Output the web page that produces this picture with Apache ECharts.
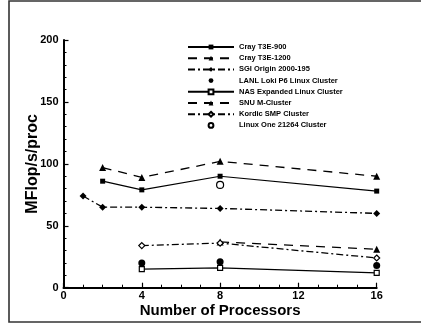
<!DOCTYPE html>
<html>
<head>
<meta charset="utf-8">
<script src="https://cdn.jsdelivr.net/npm/echarts@6/dist/echarts.min.js"></script>
<style>
  html, body { margin: 0; padding: 0; background: #fff; }
  #chart { width: 421px; height: 326px; }
</style>
</head>
<body>
<div id="chart"></div>
<script>
// Per-processor performance of several machines
const xTicks = [0, 4, 8, 12, 16];
const yTicks = [0, 50, 100, 150, 200];

const crayT3E900Procs = [2, 4, 8, 16];
const crayT3E900 = [86, 79, 90, 78];

const crayT3E1200Procs = [2, 4, 8, 16];
const crayT3E1200 = [97, 89, 102, 90];

const sgiOriginProcs = [1, 2, 4, 8, 16];
const sgiOrigin = [74, 65, 65, 64, 60];

const lanlLokiProcs = [4, 8, 16];
const lanlLoki = [20, 21, 18];

const nasExpandedProcs = [4, 8, 16];
const nasExpanded = [15, 16, 12];

const snuMClusterProcs = [8, 16];
const snuMCluster = [37, 31];

const kordicSmpProcs = [4, 8, 16];
const kordicSmp = [34, 36, 24];

const linuxOneProcs = [8];
const linuxOne = [83];

const FONT = '"Liberation Sans", Arial, sans-serif';
const pair = (xs, ys) => xs.map((x, i) => [x, ys[i]]);

function lineSeries(name, xs, ys, symbol, size, lineType, width, filled) {
  return {
    name: name,
    type: 'line',
    data: pair(xs, ys),
    symbol: symbol,
    symbolSize: size,
    showAllSymbol: true,
    animation: false,
    lineStyle: { color: '#000', width: width, type: lineType },
    itemStyle: filled
      ? { color: '#000', borderColor: '#000', borderWidth: 0 }
      : { color: '#fff', borderColor: '#000', borderWidth: 1.2 },
    emphasis: { disabled: true }
  };
}

const series = [
  lineSeries('Cray T3E-900', crayT3E900Procs, crayT3E900, 'rect', 5, 'solid', 1.2, true),
  lineSeries('Cray T3E-1200', crayT3E1200Procs, crayT3E1200, 'triangle', 7, [9, 7], 1.3, true),
  lineSeries('SGI Origin 2000-195', sgiOriginProcs, sgiOrigin, 'diamond', 7, [7, 3, 2, 3], 1.3, true),
  lineSeries('LANL Loki P6 Linux Cluster', lanlLokiProcs, lanlLoki, 'circle', 7, 'solid', 0, true),
  lineSeries('NAS Expanded Linux Cluster', nasExpandedProcs, nasExpanded, 'rect', 5, 'solid', 1.2, false),
  lineSeries('SNU M-Cluster', snuMClusterProcs, snuMCluster, 'triangle', 7, [9, 7], 1.3, true),
  lineSeries('Kordic SMP Cluster', kordicSmpProcs, kordicSmp, 'diamond', 6, [7, 3, 2, 3], 1.3, false),
  lineSeries('Linux One 21264 Cluster', linuxOneProcs, linuxOne, 'circle', 7, 'solid', 0, false)
];

const chart = echarts.init(document.getElementById('chart'), null, { renderer: 'canvas' });
chart.setOption({
  backgroundColor: '#fff',
  animation: false,
  textStyle: { fontFamily: FONT },
  graphic: [{
    type: 'rect',
    shape: { x: 9, y: 1, width: 420, height: 321 },
    style: { fill: 'none', stroke: '#333', lineWidth: 1.6 },
    silent: true
  }],
  grid: { left: 63.5, right: 44.3, top: 40, bottom: 38.3, containLabel: false },
  legend: {
    orient: 'vertical',
    left: 182,
    top: 38,
    itemWidth: 46,
    itemHeight: 6,
    itemGap: 3.2,
    selectedMode: false,
    textStyle: { fontFamily: FONT, fontSize: 7.5, fontWeight: 'bold', color: '#000' },
    data: series.map(s => s.name)
  },
  xAxis: {
    type: 'value',
    min: xTicks[0],
    max: xTicks[xTicks.length - 1],
    interval: xTicks[1] - xTicks[0],
    name: 'Number of Processors',
    nameLocation: 'middle',
    nameGap: 15.5,
    nameMoveOverlap: false,
    nameTextStyle: { fontFamily: FONT, fontSize: 15, fontWeight: 'bold', color: '#000', verticalAlign: 'top' },
    axisLine: { show: true, lineStyle: { color: '#000', width: 2 } },
    axisTick: { show: true, inside: true, length: 5, lineStyle: { color: '#000', width: 1.2 } },
    minorTick: { show: true, splitNumber: 4, length: 3, lineStyle: { color: '#000', width: 1 } },
    splitLine: { show: false },
    axisLabel: { fontFamily: FONT, fontSize: 11, fontWeight: 'bold', color: '#000', margin: 3 }
  },
  yAxis: {
    type: 'value',
    min: yTicks[0],
    max: yTicks[yTicks.length - 1],
    interval: yTicks[1] - yTicks[0],
    name: 'MFlop/s/proc',
    nameLocation: 'middle',
    nameGap: 23,
    nameMoveOverlap: false,
    nameRotate: 90,
    nameTextStyle: { fontFamily: FONT, fontSize: 16, fontWeight: 'bold', color: '#000' },
    axisLine: { show: true, lineStyle: { color: '#000', width: 2 } },
    axisTick: { show: true, inside: true, length: 5, lineStyle: { color: '#000', width: 1.2 } },
    minorTick: { show: true, splitNumber: 5, length: 3, lineStyle: { color: '#000', width: 1 } },
    splitLine: { show: false },
    axisLabel: { fontFamily: FONT, fontSize: 11, fontWeight: 'bold', color: '#000', margin: 5 }
  },
  series: series
});
</script>
</body>
</html>
